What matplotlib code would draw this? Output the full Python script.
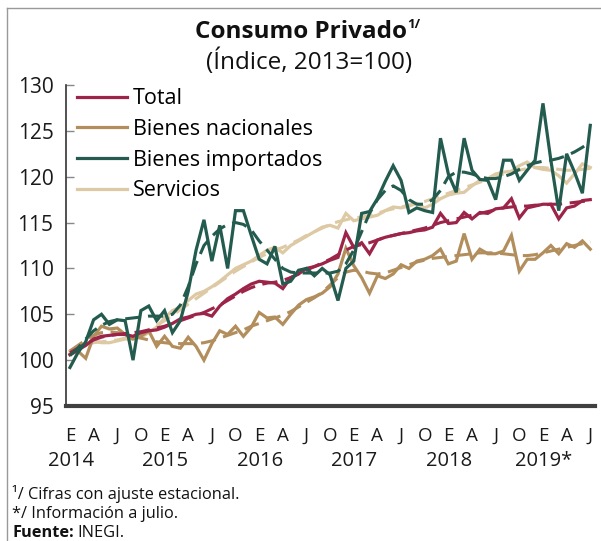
# Consumo privado: indices mensuales (solid) y tendencia (dashed), 2014-2019

import matplotlib
matplotlib.use("Agg")
import matplotlib.pyplot as plt
from matplotlib.lines import Line2D

plt.rcParams["font.family"] = ["Open Sans", "DejaVu Sans"]

# months Jan 2014 .. Jul 2019
MONTH_LETTERS = ["E", "F", "M", "A", "M", "J", "J", "A", "S", "O", "N", "D"]
YEARS = ["2014", "2015", "2016", "2017", "2018", "2019*"]
N_MONTHS = 67

total = [100.6, 101.1, 101.6, 102.3, 102.6, 102.7, 102.8, 102.8, 102.6, 103.0, 103.2, 103.3,
         103.6, 104.0, 104.5, 104.7, 105.0, 105.1, 104.8, 105.9, 106.7, 107.2, 107.8, 108.3,
         108.6, 108.5, 108.4, 107.8, 109.0, 109.4, 110.0, 110.2, 110.5, 110.9, 111.2, 113.9,
         112.3, 112.8, 111.6, 113.1, 113.4, 113.6, 113.8, 113.9, 114.1, 114.2, 114.5, 116.0,
         114.9, 115.0, 116.1, 115.4, 116.1, 116.0, 116.5, 116.6, 117.6, 115.5, 116.6, 116.8,
         117.0, 117.0, 115.4, 116.6, 116.8, 117.4, 117.5]
total_trend = [100.8, 101.3, 101.8, 102.2, 102.5, 102.7, 102.8, 102.9, 103.0, 103.1, 103.3, 103.5,
               103.7, 104.0, 104.3, 104.6, 104.9, 105.2, 105.6, 106.0, 106.5, 107.0, 107.5, 107.9,
               108.2, 108.4, 108.5, 108.7, 109.0, 109.4, 109.8, 110.2, 110.6, 111.0, 111.5, 112.0,
               112.4, 112.6, 112.8, 113.1, 113.4, 113.6, 113.8, 114.0, 114.2, 114.4, 114.7, 115.0,
               115.2, 115.4, 115.6, 115.8, 116.0, 116.2, 116.4, 116.6, 116.7, 116.8, 116.8, 116.9,
               116.9, 117.0, 117.0, 117.1, 117.2, 117.3, 117.4]

nacionales = [100.6, 101.0, 100.2, 102.6, 103.7, 103.4, 103.5, 102.8, 102.3, 102.6, 103.2, 101.5,
              102.6, 101.5, 101.3, 102.5, 101.5, 100.0, 101.8, 103.2, 102.8, 103.7, 102.6, 103.6,
              105.2, 104.6, 104.7, 103.9, 105.0, 106.0, 106.6, 106.9, 107.3, 108.0, 109.4, 112.2,
              110.3, 109.0, 107.3, 109.2, 108.9, 109.4, 110.4, 110.0, 110.8, 111.0, 111.4, 112.1,
              110.5, 110.8, 113.8, 111.0, 112.1, 111.6, 111.6, 111.9, 113.6, 109.7, 111.0, 111.0,
              111.7, 112.5, 111.6, 112.7, 112.3, 113.0, 112.1]
nacionales_trend = [101.0, 101.6, 102.2, 102.7, 103.0, 103.1, 103.0, 102.8, 102.6, 102.4, 102.2, 102.0,
                    101.9, 101.8, 101.8, 101.8, 101.8, 101.9, 102.1, 102.4, 102.7, 103.0, 103.3, 103.7,
                    104.0, 104.3, 104.6, 104.9, 105.3, 105.8, 106.3, 106.8, 107.4, 108.2, 109.0, 109.6,
                    109.8, 109.7, 109.5, 109.4, 109.5, 109.8, 110.1, 110.4, 110.7, 110.9, 111.1, 111.2,
                    111.3, 111.4, 111.5, 111.6, 111.7, 111.7, 111.7, 111.6, 111.5, 111.4, 111.4, 111.5,
                    111.7, 111.9, 112.1, 112.3, 112.5, 112.7, 112.9]

importados = [99.2, 100.8, 102.0, 104.4, 105.0, 103.9, 104.4, 104.3, 100.0, 105.4, 105.9, 104.3,
              105.4, 103.0, 104.3, 107.5, 112.0, 115.3, 110.8, 114.7, 110.0, 116.3, 116.3, 113.6,
              111.0, 110.5, 112.4, 108.3, 108.6, 109.8, 110.0, 109.2, 110.0, 109.3, 106.5, 110.0,
              110.8, 116.0, 116.2, 117.6, 119.5, 121.2, 119.6, 116.1, 116.6, 116.3, 116.1, 124.2,
              120.3, 118.3, 124.2, 120.7, 119.7, 119.6, 117.5, 121.8, 121.8, 119.6, 120.7, 121.8,
              128.0, 121.8, 116.3, 122.5, 120.5, 118.2, 125.6]
importados_trend = [100.5, 101.3, 102.3, 103.2, 103.8, 104.2, 104.4, 104.5, 104.6, 104.7, 104.8, 104.8,
                    104.8, 105.0, 106.0, 108.0, 110.5, 112.5, 113.5, 114.3, 114.8, 115.0, 114.8, 114.2,
                    113.0, 112.0, 111.0, 110.0, 109.6, 109.5, 109.5, 109.5, 109.5, 109.5, 109.7, 110.5,
                    112.0, 114.0, 116.0, 117.5, 118.5, 119.0, 118.5, 117.5, 117.0, 117.0, 117.5, 118.5,
                    120.0, 120.5, 120.5, 120.3, 120.0, 119.8, 119.8, 120.0, 120.3, 120.8, 121.2, 121.5,
                    121.7, 121.8, 122.0, 122.3, 122.7, 123.2, 123.8]

servicios = [101.0, 101.3, 101.7, 102.1, 101.9, 101.9, 102.1, 102.3, 102.3, 102.5, 103.0, 103.6,
             104.6, 105.4, 105.8, 106.5, 107.2, 107.5, 108.0, 108.6, 109.3, 110.0, 110.4, 110.8,
             111.4, 112.0, 112.3, 111.7, 112.5, 113.0, 113.5, 114.0, 114.5, 114.7, 114.4, 116.0,
             115.2, 115.4, 115.6, 115.8, 116.3, 116.7, 116.6, 116.8, 117.1, 116.6, 117.0, 117.6,
             118.0, 118.2, 118.3, 119.0, 119.6, 119.8, 120.3, 120.5, 120.6, 121.2, 121.6, 121.0,
             120.8, 120.7, 120.1, 119.3, 120.3, 121.4, 121.0]
servicios_trend = [101.0, 101.4, 101.7, 101.9, 102.0, 102.1, 102.2, 102.4, 102.6, 102.9, 103.3, 103.8,
                   104.3, 104.9, 105.5, 106.1, 106.7, 107.3, 107.9, 108.5, 109.1, 109.7, 110.2, 110.7,
                   111.2, 111.6, 112.0, 112.3, 112.7, 113.1, 113.6, 114.0, 114.4, 114.8, 115.1, 115.3,
                   115.5, 115.6, 115.8, 116.0, 116.3, 116.5, 116.7, 116.9, 117.1, 117.3, 117.6, 117.9,
                   118.2, 118.5, 118.8, 119.1, 119.4, 119.7, 120.0, 120.3, 120.5, 120.7, 120.9, 121.0,
                   121.0, 120.9, 120.8, 120.7, 120.7, 120.8, 120.9]

SERIES = [
    ("Total", total, total_trend, "#9D2449"),
    ("Bienes nacionales", nacionales, nacionales_trend, "#B38E5D"),
    ("Bienes importados", importados, importados_trend, "#235B4E"),
    ("Servicios", servicios, servicios_trend, "#DDC9A3"),
]

W, H = 601, 541
fig = plt.figure(figsize=(W / 100, H / 100), dpi=100)
ax = fig.add_axes([66 / W, 1 - 406 / H, (595 - 66) / W, (406 - 85) / H])

x = list(range(N_MONTHS))
# draw order: servicios under, importados on top
for name, vals, trend, color in [SERIES[3], SERIES[1], SERIES[0], SERIES[2]]:
    ax.plot(x, vals, color=color, lw=2.3, solid_joinstyle="miter", zorder=3)
    ax.plot(x, trend, color=color, lw=2.2, ls=(0, (5, 2.5)), zorder=3)

ax.set_xlim(-0.5, N_MONTHS - 1 + 0.6)
ax.set_ylim(95, 130)
ax.set_yticks(range(95, 131, 5))
ax.tick_params(axis="y", direction="in", length=6, width=1, color="#888888",
               labelsize=15, pad=9, labelcolor="#1a1a1a")
ax.tick_params(axis="x", length=0, labelsize=13.5, pad=15, labelcolor="#1a1a1a")

qticks = list(range(0, N_MONTHS, 3))
ax.set_xticks(qticks)
ax.set_xticklabels([MONTH_LETTERS[m % 12] for m in qticks])

for i, yr in enumerate(YEARS):
    ax.text(12 * i + 0.1, -0.17, yr, transform=ax.get_xaxis_transform(),
            ha="center", va="center", fontsize=14.5, color="#1a1a1a")

for side in ["top", "right"]:
    ax.spines[side].set_visible(False)
ax.spines["left"].set_color("#333333")
ax.spines["left"].set_linewidth(1.2)
ax.spines["bottom"].set_color("#404040")
ax.spines["bottom"].set_linewidth(3)

handles = [Line2D([0], [0], color=c, lw=2.3) for _, _, _, c in SERIES]
ax.legend(handles, [s[0] for s in SERIES], loc="upper left", frameon=False,
          fontsize=15.5, handlelength=2.3, handletextpad=0.3, labelspacing=0.45,
          borderaxespad=0, borderpad=0, bbox_to_anchor=(11 / (595 - 66), 0.99))

# title with superscript
fig.canvas.draw()
r = fig.canvas.get_renderer()
t = fig.text(301 / W, 1 - 32 / H, "Consumo Privado", ha="center", va="center",
             fontsize=17.5, fontweight="bold", color="#111111")
bb = t.get_window_extent(r)
fig.text(bb.x1 / W, 1 - 24 / H, "1/", ha="left", va="center",
         fontsize=9.5, fontweight="bold", color="#111111")
fig.text(309 / W, 1 - 62 / H, "(Índice, 2013=100)", ha="center", va="center",
         fontsize=17.5, color="#111111")

# notes
fs_note = 11.8
fig.text(12 / W, 1 - 494 / H, "¹/ Cifras con ajuste estacional.", fontsize=fs_note,
         va="center", color="#111111")
fig.text(12 / W, 1 - 514 / H, "*/ Información a julio.", fontsize=fs_note,
         va="center", color="#111111")
f1 = fig.text(12 / W, 1 - 533 / H, "Fuente:", fontsize=fs_note, fontweight="bold",
              va="center", color="#111111")
fb = f1.get_window_extent(r)
fig.text(fb.x1 / W + 0.007, 1 - 533 / H, "INEGI.", fontsize=fs_note, va="center",
         color="#111111")

# thin frame lines (top and left) of the original box
fig.add_artist(Line2D([7 / W, 7 / W], [0, 1 - 8 / H], color="#999999", lw=1,
                      transform=fig.transFigure))
fig.add_artist(Line2D([7 / W, 1], [1 - 8 / H, 1 - 8 / H], color="#999999", lw=1,
                      transform=fig.transFigure))

fig.savefig("out.png", dpi=100)
